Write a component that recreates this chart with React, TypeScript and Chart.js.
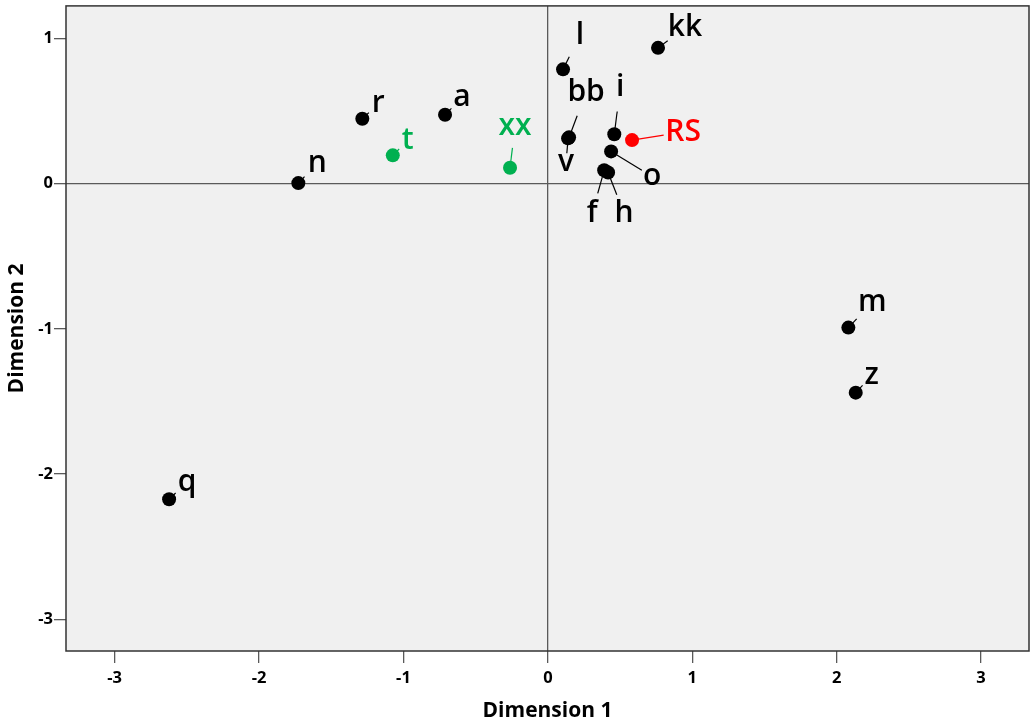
import React, { useEffect, useRef } from "react";
import { Chart, registerables } from "chart.js";

Chart.register(...registerables);

// ---- data ----
const pointNames = ["l", "kk", "bb", "v", "i", "RS", "o", "f", "h", "xx", "t", "r", "a", "n", "m", "z", "q"];
const dimension1 = [0.105, 0.763, 0.147, 0.14, 0.46, 0.583, 0.438, 0.39, 0.417, -0.262, -1.074, -1.285, -0.712, -1.728, 2.081, 2.132, -2.623];
const dimension2 = [0.787, 0.935, 0.319, 0.312, 0.34, 0.3, 0.222, 0.092, 0.077, 0.11, 0.195, 0.447, 0.475, 0.004, -0.991, -1.439, -2.173];
const xTickValues = [-3, -2, -1, 0, 1, 2, 3];
const yTickValues = [-3, -2, -1, 0, 1];
const xAxisTitle = "Dimension 1";
const yAxisTitle = "Dimension 2";

// ---- presentation ----
const highlightColors: Record<string, string> = { t: "#00b050", xx: "#00b050", RS: "#ff0000" };
// label text offset from point (px) and leader length (px)
const labelLayout: Record<string, [number, number, number]> = {
  l: [17, -34, 14],
  kk: [27, -20, 12],
  bb: [17, -45, 23],
  v: [-2, 24, 15],
  i: [6, -47, 23],
  RS: [51, -8, 32],
  o: [41, 25, 36],
  f: [-12, 43, 24],
  h: [16, 41, 24],
  xx: [5, -41, 20],
  t: [15, -15, 9],
  r: [16, -15, 9],
  a: [17, -17, 9],
  n: [19, -20, 9],
  m: [24, -25, 12],
  z: [16, -17, 10],
  q: [18, -17, 9],
};

const colorFor = (name: string) => highlightColors[name] || "#000000";

const frameAndLabels = {
  id: "frameAndLabels",
  beforeDraw(chart: any) {
    const { ctx, chartArea: a } = chart;
    ctx.save();
    ctx.fillStyle = "#f0f0f0";
    ctx.fillRect(a.left, a.top, a.right - a.left, a.bottom - a.top);
    ctx.restore();
  },
  afterDatasetsDraw(chart: any) {
    const { ctx } = chart;
    const meta = chart.getDatasetMeta(0);
    ctx.save();
    meta.data.forEach((el: any, i: number) => {
      const name = pointNames[i];
      const [dx, dy, len] = labelLayout[name] || [15, -15, 9];
      const col = colorFor(name);
      const d = Math.hypot(dx, dy) || 1;
      ctx.strokeStyle = col;
      ctx.lineWidth = 1.2;
      ctx.beginPath();
      ctx.moveTo(el.x, el.y);
      ctx.lineTo(el.x + (dx / d) * len, el.y + (dy / d) * len);
      ctx.stroke();
      ctx.fillStyle = col;
      ctx.font = "650 30px 'Open Sans', sans-serif";
      ctx.textAlign = "center";
      ctx.textBaseline = "middle";
      ctx.fillText(name, el.x + dx, el.y + dy);
    });
    ctx.restore();
  },
  afterDraw(chart: any) {
    const { ctx, chartArea: a } = chart;
    ctx.save();
    ctx.strokeStyle = "#333333";
    ctx.lineWidth = 1.5;
    ctx.strokeRect(a.left, a.top, a.right - a.left, a.bottom - a.top);
    ctx.restore();
  },
};

export default function App() {
  const canvasRef = useRef<HTMLCanvasElement | null>(null);

  useEffect(() => {
    if (!canvasRef.current) return;
    const points = dimension1.map((x, i) => ({ x, y: dimension2[i] }));
    const chart = new Chart(canvasRef.current, {
      type: "scatter",
      data: {
        datasets: [
          {
            label: "points",
            data: points,
            pointRadius: 7,
            pointHoverRadius: 7,
            pointBorderWidth: 0,
            pointBackgroundColor: pointNames.map(colorFor),
            pointBorderColor: pointNames.map(colorFor),
          },
        ],
      },
      options: {
        animation: false,
        responsive: false,
        maintainAspectRatio: false,
        layout: { autoPadding: false, padding: { top: 0, right: 3, left: 0, bottom: 0 } },
        plugins: { legend: { display: false }, tooltip: { enabled: false } },
        scales: {
          x: {
            type: "linear",
            min: -3.337,
            max: 3.332,
            afterBuildTicks: (s: any) => {
              s.ticks = xTickValues.map((v) => ({ value: v }));
            },
            afterFit: (s: any) => {
              s.height = 75;
            },
            grid: {
              color: (c: any) => (c.tick && c.tick.value === 0 ? "#5a5a5a" : "rgba(0,0,0,0)"),
              tickColor: "#5a5a5a",
              tickLength: 12,
              lineWidth: 1.3,
            },
            border: { display: false },
            ticks: {
              color: "#000",
              padding: 5,
              font: { family: "'Open Sans', sans-serif", size: 16.5, weight: "bold" },
            },
            title: {
              display: true,
              text: xAxisTitle,
              color: "#000",
              padding: { top: 0, bottom: 2 },
              font: { family: "'Open Sans', sans-serif", size: 21, weight: "bold" },
            },
          },
          y: {
            type: "linear",
            min: -3.218,
            max: 1.224,
            afterBuildTicks: (s: any) => {
              s.ticks = yTickValues.map((v) => ({ value: v }));
            },
            afterFit: (s: any) => {
              s.width = 66;
            },
            grid: {
              color: (c: any) => (c.tick && c.tick.value === 0 ? "#5a5a5a" : "rgba(0,0,0,0)"),
              tickColor: "#5a5a5a",
              tickLength: 12,
              lineWidth: 1.3,
            },
            border: { display: false },
            ticks: {
              color: "#000",
              padding: 1,
              font: { family: "'Open Sans', sans-serif", size: 16.5, weight: "bold" },
            },
            title: {
              display: true,
              text: yAxisTitle,
              color: "#000",
              padding: { top: 4, bottom: 0 },
              font: { family: "'Open Sans', sans-serif", size: 21, weight: "bold" },
            },
          },
        },
      },
      plugins: [frameAndLabels],
    } as any);
    return () => chart.destroy();
  }, []);

  return (
    <div style={{ position: "absolute", left: 0, top: 0, width: 1032, height: 726, overflow: "hidden", background: "#fff" }}>
      <canvas
        ref={canvasRef}
        width={1032}
        height={731}
        style={{ position: "absolute", left: 0, top: -5, width: 1032, height: 731, display: "block" }}
      />
    </div>
  );
}
